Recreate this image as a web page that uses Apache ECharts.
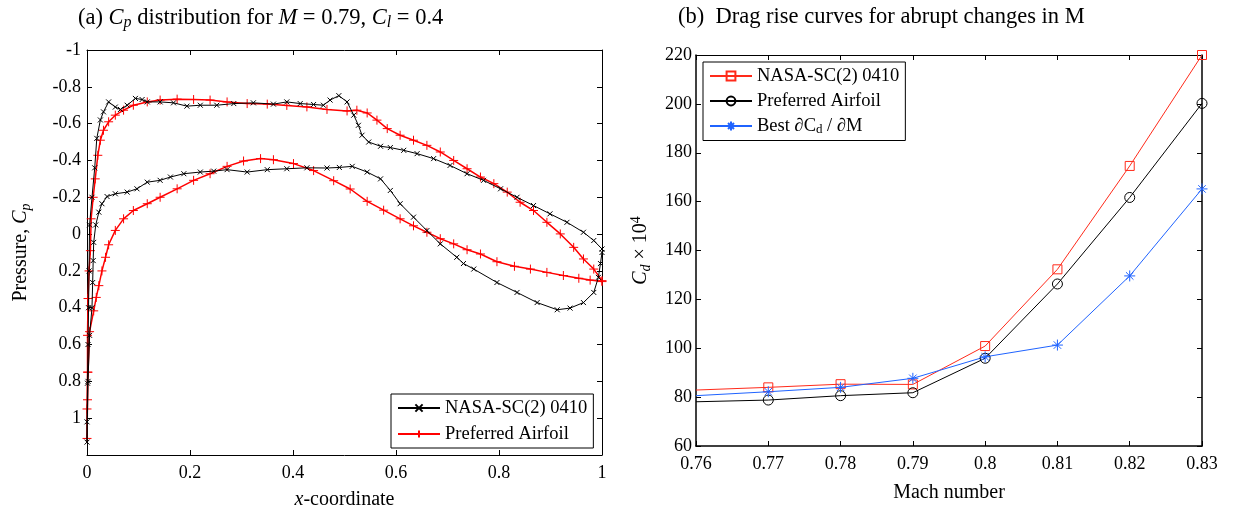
<!DOCTYPE html>
<html><head><meta charset="utf-8">
<script src="https://cdn.jsdelivr.net/npm/echarts@6/dist/echarts.min.js"></script>
<style>html,body{margin:0;padding:0;background:#fff}#c{width:1233px;height:515px}</style>
</head><body><div id="c"></div>
<script>
// ---------- (a) Cp distribution data ----------
const nasaUpX  = [0,0.000,0.001,0.002,0.003,0.004,0.005,0.0097,0.015,0.019,0.026,0.032,0.042,0.055,0.065,0.078,0.094,0.107,0.117,0.142,0.168,0.194,0.22,0.252,0.285,0.323,0.362,0.388,0.414,0.44,0.459,0.472,0.489,0.505,0.518,0.527,0.534,0.547,0.57,0.589,0.615,0.641,0.673,0.705,0.738,0.77,0.803,0.835,0.867,0.899,0.932,0.964,0.984,1.0];
const nasaUpCp = [1.13,1.02,0.81,0.6,0.4,0.2,-0.05,-0.2,-0.36,-0.52,-0.62,-0.664,-0.718,-0.69,-0.677,-0.70,-0.737,-0.731,-0.718,-0.718,-0.713,-0.695,-0.70,-0.70,-0.709,-0.713,-0.706,-0.718,-0.709,-0.704,-0.70,-0.728,-0.752,-0.718,-0.646,-0.591,-0.537,-0.50,-0.477,-0.47,-0.455,-0.437,-0.41,-0.373,-0.328,-0.292,-0.246,-0.20,-0.155,-0.11,-0.064,-0.01,0.035,0.081];
const nasaLoX  = [0,0.002,0.005,0.0097,0.011,0.012,0.013,0.017,0.023,0.029,0.039,0.055,0.078,0.097,0.117,0.142,0.162,0.188,0.22,0.246,0.272,0.311,0.35,0.388,0.427,0.466,0.49,0.515,0.544,0.57,0.589,0.608,0.634,0.66,0.686,0.718,0.731,0.751,0.796,0.835,0.874,0.913,0.938,0.964,0.984,0.993,0.997,1.0];
const nasaLoCp = [1.13,0.8,0.55,0.40,0.263,0.144,0.045,-0.05,-0.119,-0.165,-0.204,-0.219,-0.228,-0.246,-0.282,-0.292,-0.31,-0.328,-0.337,-0.342,-0.35,-0.337,-0.35,-0.355,-0.36,-0.359,-0.362,-0.368,-0.337,-0.30,-0.237,-0.165,-0.092,-0.019,0.053,0.126,0.16,0.19,0.263,0.317,0.372,0.411,0.402,0.372,0.317,0.235,0.16,0.10];
const prefUpX  = [0,0.000,0.001,0.001,0.002,0.004,0.0066,0.008,0.012,0.016,0.021,0.026,0.032,0.042,0.055,0.071,0.09,0.117,0.142,0.175,0.207,0.239,0.272,0.311,0.35,0.388,0.427,0.466,0.505,0.524,0.544,0.563,0.583,0.608,0.634,0.66,0.686,0.712,0.738,0.764,0.79,0.816,0.841,0.867,0.893,0.919,0.945,0.964,0.984,1.0];
const prefUpCp = [1.11,0.95,0.75,0.55,0.35,0.2,0.09,-0.083,-0.2,-0.3,-0.428,-0.51,-0.564,-0.61,-0.646,-0.673,-0.70,-0.718,-0.728,-0.733,-0.731,-0.728,-0.718,-0.709,-0.706,-0.699,-0.691,-0.677,-0.669,-0.673,-0.658,-0.619,-0.573,-0.537,-0.51,-0.482,-0.446,-0.40,-0.355,-0.31,-0.274,-0.228,-0.173,-0.128,-0.064,-0.001,0.072,0.135,0.19,0.253];
const prefLoX  = [0,0.001,0.002,0.005,0.013,0.018,0.023,0.029,0.036,0.042,0.055,0.071,0.09,0.117,0.142,0.175,0.207,0.239,0.272,0.304,0.337,0.362,0.401,0.44,0.479,0.511,0.544,0.576,0.608,0.634,0.66,0.686,0.712,0.738,0.764,0.796,0.83,0.861,0.893,0.925,0.955,0.977,1.0];
const prefLoCp = [1.11,0.9,0.75,0.53,0.417,0.344,0.28,0.2,0.126,0.058,-0.02,-0.083,-0.128,-0.165,-0.20,-0.246,-0.292,-0.328,-0.368,-0.397,-0.41,-0.404,-0.383,-0.345,-0.29,-0.245,-0.178,-0.13,-0.083,-0.045,-0.01,0.025,0.053,0.085,0.108,0.15,0.175,0.19,0.208,0.225,0.24,0.25,0.258];

// ---------- (b) Drag rise data ----------
const mach     = [0.76,0.77,0.78,0.79,0.80,0.81,0.82,0.83];
const cdNasa   = [82.9,84.0,85.3,85.2,100.9,132.3,174.6,220.0];
const cdPref   = [78.1,78.8,80.6,81.8,95.9,126.3,161.7,200.2];
const cdBest   = [80.6,82.2,84.0,87.7,96.5,101.3,129.6,165.2];

const F = 'Liberation Serif';
function loop(ux, uy, lx, ly) {
  const d = [];
  for (let i = ux.length - 1; i >= 0; i--) d.push([ux[i], uy[i]]);
  for (let i = 1; i < lx.length; i++) d.push([lx[i], ly[i]]);
  return d;
}
function pairs(xs, ys) { return xs.map((x, i) => [x, ys[i]]); }
const fmt = v => String(parseFloat(v.toFixed(2)));

const X_SYM = 'path://M0,0L10,10M10,0L0,10';
const P_SYM = 'path://M5,0L5,10M0,5L10,5';
const S_SYM = 'path://M5,0L5,10M0,5L10,5M1.6,1.6L8.4,8.4M1.6,8.4L8.4,1.6';

const txt = {fontFamily: F, color: '#000'};
const axisBase = {
  axisLine: {show: true, onZero: false, lineStyle: {color: '#000', width: 1}},
  axisTick: {show: true, inside: true, length: 5, lineStyle: {color: '#000'}},
  splitLine: {show: false},
};
const richSub = {
  i: {fontFamily: F, fontStyle: 'italic', fontSize: 20, color: '#000'},
  s: {fontFamily: F, fontStyle: 'italic', fontSize: 14, color: '#000', padding: [10, 0, 0, 0]},
  u: {fontFamily: F, fontSize: 14, color: '#000', padding: [0, 0, 10, 0]}
};

const chart = echarts.init(document.getElementById('c'), null, {renderer: 'canvas'});
const rightNames = {rN: 'NASA-SC(2) 0410', rP: 'Preferred Airfoil', rB: 'Best ∂C{s|d} / ∂M'};

chart.setOption({
  animation: false,
  backgroundColor: '#fff',
  title: [
    {text: '(a) {i|C}{s|p} distribution for {i|M} = 0.79, {i|C}{s|l} = 0.4', left: 73, top: 0,
     textStyle: Object.assign({fontSize: 22.5, fontWeight: 'normal', rich: {
       i: {fontFamily: F, fontStyle: 'italic', fontSize: 22.5, color: '#000'},
       s: {fontFamily: F, fontStyle: 'italic', fontSize: 16, color: '#000', padding: [10, 0, 0, 0]}}}, txt)},
    {text: '(b)  Drag rise curves for abrupt changes in M', left: 673, top: 1,
     textStyle: Object.assign({fontSize: 22.5, fontWeight: 'normal'}, txt)}
  ],
  grid: [
    {left: 87, top: 50, width: 515, height: 405, containLabel: false},
    {left: 696, top: 55, width: 506, height: 391, containLabel: false}
  ],
  xAxis: [
    Object.assign({type: 'value', gridIndex: 0, position: 'bottom', min: 0, max: 1, interval: 0.2,
      axisLabel: Object.assign({fontSize: 18, margin: 9, formatter: fmt}, txt),
      name: '{i|x}-coordinate', nameLocation: 'middle', nameGap: 35,
      nameTextStyle: Object.assign({fontSize: 20, rich: richSub}, txt)}, axisBase),
    Object.assign({type: 'value', gridIndex: 0, position: 'top', min: 0, max: 1, interval: 0.2,
      axisLabel: {show: false}}, axisBase),
    Object.assign({type: 'value', gridIndex: 1, position: 'bottom', min: 0.76, max: 0.83, interval: 0.01,
      axisLabel: Object.assign({fontSize: 18, margin: 9, formatter: fmt}, txt),
      name: 'Mach number', nameLocation: 'middle', nameGap: 37,
      nameTextStyle: Object.assign({fontSize: 20}, txt)}, axisBase, {axisLine: {show: true, onZero: false, lineStyle: {color: '#000', width: 1.5}}}),
    Object.assign({type: 'value', gridIndex: 1, position: 'top', min: 0.76, max: 0.83, interval: 0.01,
      axisLabel: {show: false}}, axisBase)
  ],
  yAxis: [
    Object.assign({type: 'value', gridIndex: 0, position: 'left', min: -1, max: 1.2, interval: 0.2, inverse: true,
      axisLabel: Object.assign({fontSize: 18, margin: 6, formatter: v => Math.abs(v - 1.2) < 1e-6 ? '' : fmt(v)}, txt),
      name: 'Pressure, {i|C}{s|p}', nameLocation: 'middle', nameRotate: 90, nameGap: 54,
      nameTextStyle: Object.assign({fontSize: 20, rich: richSub}, txt)}, axisBase),
    Object.assign({type: 'value', gridIndex: 0, position: 'right', min: -1, max: 1.2, interval: 0.2, inverse: true,
      axisLabel: {show: false}}, axisBase),
    Object.assign({type: 'value', gridIndex: 1, position: 'left', min: 60, max: 220, interval: 20,
      axisLabel: Object.assign({fontSize: 18, margin: 4}, txt),
      name: '{i|C}{s|d} × 10{u|4}', nameLocation: 'middle', nameRotate: 90, nameGap: 43,
      nameTextStyle: Object.assign({fontSize: 20, rich: richSub}, txt)}, axisBase, {axisLine: {show: true, onZero: false, lineStyle: {color: '#000', width: 1.5}}}),
    Object.assign({type: 'value', gridIndex: 1, position: 'right', min: 60, max: 220, interval: 20,
      axisLabel: {show: false}}, axisBase, {axisLine: {show: true, onZero: false, lineStyle: {color: '#000', width: 1.5}}})
  ],
  legend: [
    {data: ['NASA-SC(2) 0410', 'Preferred Airfoil'], left: 391, top: 394, orient: 'vertical',
     backgroundColor: '#fff', borderColor: '#000', borderWidth: 1, borderRadius: 0, padding: [4, 6, 4, 6],
     itemGap: 6, itemWidth: 42, itemHeight: 9, selectedMode: false,
     textStyle: Object.assign({fontSize: 18.5, lineHeight: 20}, txt)},
    {data: ['rN', 'rP', 'rB'], left: 703, top: 62, orient: 'vertical',
     backgroundColor: '#fff', borderColor: '#000', borderWidth: 1, borderRadius: 0, padding: [4, 6, 4, 6],
     itemGap: 5, itemWidth: 42, itemHeight: 11, selectedMode: false,
     formatter: n => rightNames[n],
     textStyle: Object.assign({fontSize: 18.5, lineHeight: 20, rich: {
       s: {fontFamily: F, fontSize: 13, color: '#000', padding: [8, 0, 0, 0]}}}, txt)}
  ],
  series: [
    {name: 'NASA-SC(2) 0410', type: 'line', xAxisIndex: 0, yAxisIndex: 0,
     data: loop(nasaUpX, nasaUpCp, nasaLoX, nasaLoCp),
     symbol: X_SYM, symbolSize: 5,
     lineStyle: {color: '#000', width: 1},
     itemStyle: {color: '#000', borderColor: '#000', borderWidth: 1}, z: 3},
    {name: 'Preferred Airfoil', type: 'line', xAxisIndex: 0, yAxisIndex: 0,
     data: loop(prefUpX, prefUpCp, prefLoX, prefLoCp),
     symbol: P_SYM, symbolSize: 9,
     lineStyle: {color: '#ff0000', width: 1.5},
     itemStyle: {color: '#ff0000', borderColor: '#ff0000', borderWidth: 1}, z: 2},
    {name: 'rN', type: 'line', xAxisIndex: 2, yAxisIndex: 2, data: pairs(mach, cdNasa),
     symbol: 'rect', symbolSize: (v, p) => p.dataIndex === 0 ? 0 : 9,
     lineStyle: {color: '#ff2a1a', width: 1},
     itemStyle: {color: 'rgba(0,0,0,0)', borderColor: '#ff2a1a', borderWidth: 1}, z: 3},
    {name: 'rP', type: 'line', xAxisIndex: 2, yAxisIndex: 2, data: pairs(mach, cdPref),
     symbol: 'circle', symbolSize: (v, p) => p.dataIndex === 0 ? 0 : 10,
     lineStyle: {color: '#000', width: 1},
     itemStyle: {color: 'rgba(0,0,0,0)', borderColor: '#000', borderWidth: 1}, z: 3},
    {name: 'rB', type: 'line', xAxisIndex: 2, yAxisIndex: 2, data: pairs(mach, cdBest),
     symbol: S_SYM, symbolSize: (v, p) => p.dataIndex === 0 ? 0 : 11,
     lineStyle: {color: '#1f63ff', width: 1},
     itemStyle: {color: '#1f63ff', borderColor: '#1f63ff', borderWidth: 1}, z: 3}
  ]
});
</script></body></html>
